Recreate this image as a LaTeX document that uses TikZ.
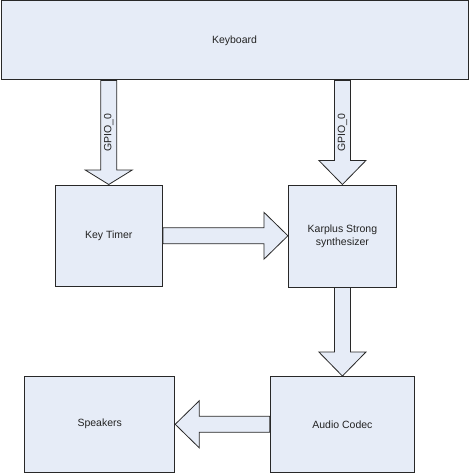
\documentclass[tikz,border=0pt]{standalone}
\usepackage{fontspec}
\setmainfont{Liberation Sans}
\usepackage{xcolor}
\usepackage{tikz}
\usetikzlibrary{positioning,calc}

\definecolor{boxfill}{RGB}{230,236,247}
\definecolor{boxline}{RGB}{40,40,40}
\definecolor{txt}{RGB}{35,35,35}

\tikzset{
  block/.style={draw=boxline,fill=boxfill,line width=1pt,inner sep=0pt,
    font=\fontsize{10.5}{13}\selectfont,text=txt,align=center},
  fat/.style={draw=boxline,fill=boxfill,line width=0.8pt,line join=miter},
  lbl/.style={font=\fontsize{10.5}{12}\selectfont,text=txt,inner sep=0pt}
}

% block arrow: [head length]{from}{to}
\newcommand{\fatarrow}[3][24pt]{%
  \coordinate (h) at ($(#3)!#1!(#2)$);
  \draw[fat] ($(#2)!8pt!90:(#3)$) -- ($(h)!8pt!-90:(#2)$) -- ($(h)!23.5pt!-90:(#2)$)
    -- (#3) -- ($(h)!23.5pt!90:(#2)$) -- ($(h)!8pt!90:(#2)$) -- ($(#2)!8pt!-90:(#3)$) -- cycle;
}

\begin{document}
\begin{tikzpicture}[x=1pt,y=-1pt]
\path[use as bounding box,fill=white] (0,0) rectangle (469,473);

\node[block,minimum width=467pt,minimum height=79pt] (kbd) at (234.5,40.5) {Keyboard};
\node[block,minimum width=107.5pt,minimum height=101.5pt] (timer) at (108.75,235.75) {Key Timer};
\node[block,minimum width=108pt,minimum height=102pt] (ks) at (342.4,236) {Karplus Strong\\synthesizer};
\node[block,minimum width=144.5pt,minimum height=95.5pt] (codec) at (342.4,424.3) {Audio Codec};
\node[block,minimum width=150pt,minimum height=96pt] (spk) at (99.7,424) {Speakers};

\coordinate (g1) at (timer.north |- kbd.south);
\coordinate (g2) at (ks.north |- kbd.south);
\coordinate (k1) at (timer.east -| ks.west);
\coordinate (s1) at (codec.west -| spk.east);

\fatarrow[14.5pt]{g1}{timer.north}
\fatarrow{g2}{ks.north}
\fatarrow{timer.east}{k1}
\fatarrow{ks.south}{codec.north}
\fatarrow{codec.west}{s1}

\path (g1) -- (timer.north) node[midway,rotate=90,lbl] {GPIO\_0};
\path (g2) -- (ks.north) node[midway,rotate=90,lbl] {GPIO\_0};
\end{tikzpicture}
\end{document}
